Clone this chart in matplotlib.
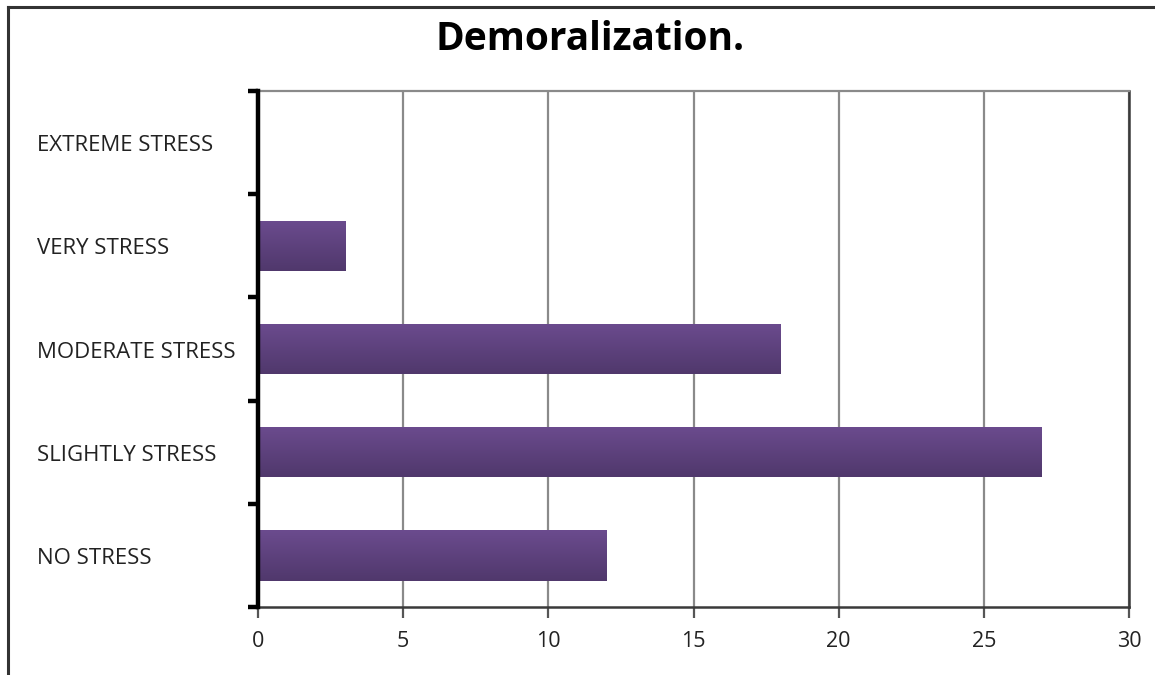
import numpy as np
import matplotlib
matplotlib.use("Agg")
import matplotlib.pyplot as plt
from matplotlib.transforms import blended_transform_factory, ScaledTranslation
from matplotlib.lines import Line2D

categories = ["NO STRESS", "SLIGHTLY STRESS", "MODERATE STRESS", "VERY STRESS", "EXTREME STRESS"]
values = [12, 27, 18, 3, 0]
x_ticks = [0, 5, 10, 15, 20, 25, 30]
title = "Demoralization."

W, H = 1155, 675
fig = plt.figure(figsize=(W / 100, H / 100), dpi=100)
fig.patch.set_facecolor("white")

ax = fig.add_axes([258 / W, 1 - 607 / H, (1129 - 258) / W, (607 - 91) / H])
ax.set_xlim(0, 30)
ax.set_ylim(-0.5, len(categories) - 0.5)

# vertical gridlines
ax.set_xticks(x_ticks)
ax.grid(axis="x", color="#8a8a8a", linewidth=1.6)
ax.set_axisbelow(True)

# bars with a vertical purple gradient
top_col = np.array([0x6b, 0x4b, 0x8e]) / 255
bot_col = np.array([0x50, 0x38, 0x6c]) / 255
grad = np.linspace(0, 1, 64)[:, None, None]
img = top_col * (1 - grad) + bot_col * grad
bar_h = 0.49
bars = ax.barh(range(len(categories)), values, height=bar_h, color="#5e4280",
               edgecolor="none", zorder=2)
for b in bars:
    if b.get_width() <= 0:
        continue
    x0, y0 = b.get_x(), b.get_y()
    w, h = b.get_width(), b.get_height()
    im = ax.imshow(img, extent=(x0, x0 + w, y0, y0 + h), origin="upper",
                   aspect="auto", zorder=3, interpolation="bilinear")
    im.set_clip_path(b)
ax.set_xlim(0, 30)
ax.set_ylim(-0.5, len(categories) - 0.5)

# spines
ax.spines["top"].set_color("#8a8a8a")
ax.spines["top"].set_linewidth(1.6)
ax.spines["right"].set_color("#3a3a3a")
ax.spines["right"].set_linewidth(1.8)
ax.spines["bottom"].set_color("#3a3a3a")
ax.spines["bottom"].set_linewidth(1.8)
ax.spines["left"].set_color("black")
ax.spines["left"].set_linewidth(3.2)
ax.spines["left"].set_zorder(5)

# category boundary ticks on the value axis
ax.set_yticks(np.arange(-0.5, len(categories), 1.0))
ax.set_yticklabels([])
ax.tick_params(axis="y", direction="out", length=7, width=3.2, color="black")
ax.tick_params(axis="x", direction="out", length=8, width=1.6, color="#555555",
               labelsize=15.5, labelcolor="#222222", pad=9)
for lab in ax.get_xticklabels():
    lab.set_fontfamily("Open Sans")

# left-aligned category labels
trans = blended_transform_factory(fig.transFigure, ax.transData) + \
    ScaledTranslation(0, -3 / 100, fig.dpi_scale_trans)
for i, c in enumerate(categories):
    fig.text(37 / W, i, c, transform=trans, ha="left", va="center",
             fontsize=16, color="#222222", family="Open Sans")

fig.text(590 / W, 1 - 40 / H, title, ha="center", va="center",
         fontsize=28, fontweight="bold", family="Open Sans", color="black")

# outer frame (top and left edges)
fig.add_artist(Line2D([8 / W, 8 / W], [0, 1 - 7 / H], transform=fig.transFigure,
                      color="#333333", linewidth=2.2))
fig.add_artist(Line2D([8 / W, 1], [1 - 7 / H, 1 - 7 / H], transform=fig.transFigure,
                      color="#333333", linewidth=2.2))

fig.savefig("out.png", dpi=100, facecolor="white")
